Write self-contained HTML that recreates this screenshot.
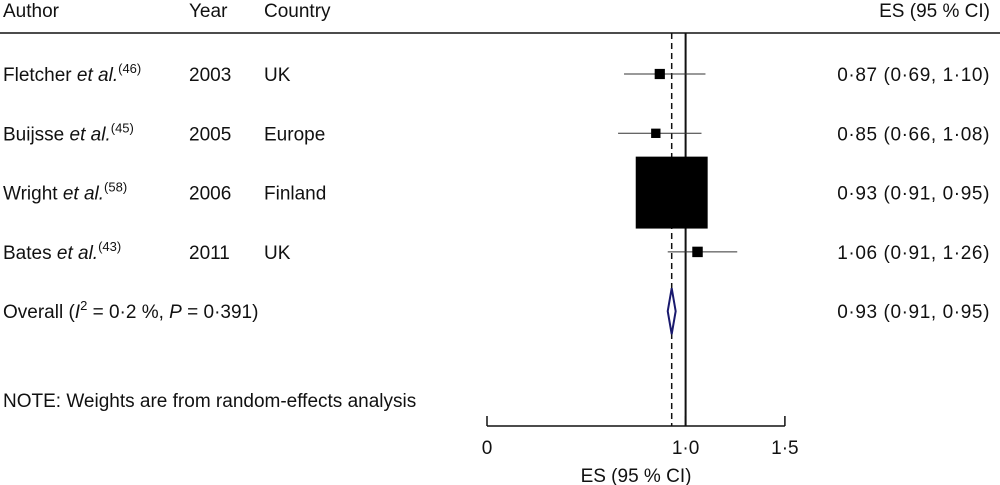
<!DOCTYPE html>
<html><head><meta charset="utf-8"><style>
body{margin:0;background:#fff;}
svg{display:block;font-family:"Liberation Sans",Arial,sans-serif;}
text{font-size:19px;fill:#111;}
</style></head><body>
<svg id="chart" width="1000" height="485" viewBox="0 0 1000 485">
<g>
<text x="3" y="17">Author</text>
<text x="189" y="17">Year</text>
<text x="264" y="17">Country</text>
<text x="990" y="17" text-anchor="end">ES (95 % CI)</text>
<line x1="0" y1="33" x2="1000" y2="33" stroke="#111" stroke-width="1.5"/>
</g>
<text x="3" y="407">NOTE: Weights are from random-effects analysis</text>
<g id="plot"></g>
</svg>
<script>
const authors = ["Fletcher", "Buijsse", "Wright", "Bates"];
const refs = ["(46)", "(45)", "(58)", "(43)"];
const years = ["2003", "2005", "2006", "2011"];
const countries = ["UK", "Europe", "Finland", "UK"];
const es = [0.87, 0.85, 0.93, 1.06];
const lo = [0.69, 0.66, 0.91, 0.91];
const hi = [1.10, 1.08, 0.95, 1.26];
const weights = [1.9, 1.6, 94.5, 2.0];
const overall = [0.93, 0.91, 0.95];
const ticks = [0, 1.0, 1.5];
const tickLabels = ["0", "1·0", "1·5"];

const NS = "http://www.w3.org/2000/svg";
const g = document.getElementById("plot");
const X = v => 487 + v * 198.6;
const rowY = i => 74 + i * 59.3;
const fmt = v => v.toFixed(2).replace(".", "·");
function mk(tag, attrs, parent) {
  const e = document.createElementNS(NS, tag);
  for (const k in attrs) e.setAttribute(k, attrs[k]);
  (parent || g).appendChild(e);
  return e;
}
let l = mk("line", {x1: X(1), y1: 33, x2: X(1), y2: 426, stroke: "#111", "stroke-width": 2});


l = mk("line", {x1: X(overall[0]), y1: 33, x2: X(overall[0]), y2: 426, stroke: "#111", "stroke-width": 1.5, "stroke-dasharray": "6,4"});



for (let i = 0; i < authors.length; i++) {
  const y = rowY(i);
  const t = mk("text", {x: 3, y: y + 7});
  
  
  t.innerHTML = authors[i] + ' <tspan font-style="italic">et al.</tspan><tspan dy="-8" font-size="13">' + refs[i] + '</tspan>';
  const ty = mk("text", {x: 189, y: y + 7});
  
  
  ty.textContent = years[i];
  const tc = mk("text", {x: 264, y: y + 7});
  
  
  tc.textContent = countries[i];
  const ci = mk("line", {x1: X(lo[i]), y1: y, x2: X(hi[i]), y2: y, stroke: "#333", "stroke-width": 1});
  
  
  const s = 7.4 * Math.sqrt(weights[i]);
  const r = mk("rect", {x: X(es[i]) - s / 2, y: y - s / 2, width: s, height: s, fill: "#000"});
  
  
  const te = mk("text", {x: 990, y: y + 7, "text-anchor": "end", "letter-spacing": "0.6"});
  
  
  te.textContent = fmt(es[i]) + " (" + fmt(lo[i]) + ", " + fmt(hi[i]) + ")";
}
const oy = rowY(4);
const ot = mk("text", {x: 3, y: oy + 7});


ot.innerHTML = 'Overall (<tspan font-style="italic">I</tspan><tspan dy="-8" font-size="13">2</tspan><tspan dy="8"> = 0·2 %, </tspan><tspan font-style="italic">P</tspan> = 0·391)';
const d = mk("polygon", {points: `${X(overall[1])},${oy} ${X(overall[0])},${oy - 23} ${X(overall[2])},${oy} ${X(overall[0])},${oy + 23}`, fill: "#fff", stroke: "#1a1a6e", "stroke-width": 2});


const ov = mk("text", {x: 990, y: oy + 7, "text-anchor": "end", "letter-spacing": "0.6"});


ov.textContent = fmt(overall[0]) + " (" + fmt(overall[1]) + ", " + fmt(overall[2]) + ")";
const ax = mk("line", {x1: X(ticks[0]), y1: 426, x2: X(ticks[ticks.length - 1]), y2: 426, stroke: "#111", "stroke-width": 1.5});


ticks.forEach((v, i) => {
  const tk = mk("line", {x1: X(v), y1: 416, x2: X(v), y2: 426, stroke: "#111", "stroke-width": 1.5});
  
  
  const tl = mk("text", {x: X(v), y: 454, "text-anchor": "middle"});
  
  
  tl.textContent = tickLabels[i];
});
const at = mk("text", {x: 636, y: 482, "text-anchor": "middle"});


at.textContent = "ES (95 % CI)";
</script>
</body></html>
